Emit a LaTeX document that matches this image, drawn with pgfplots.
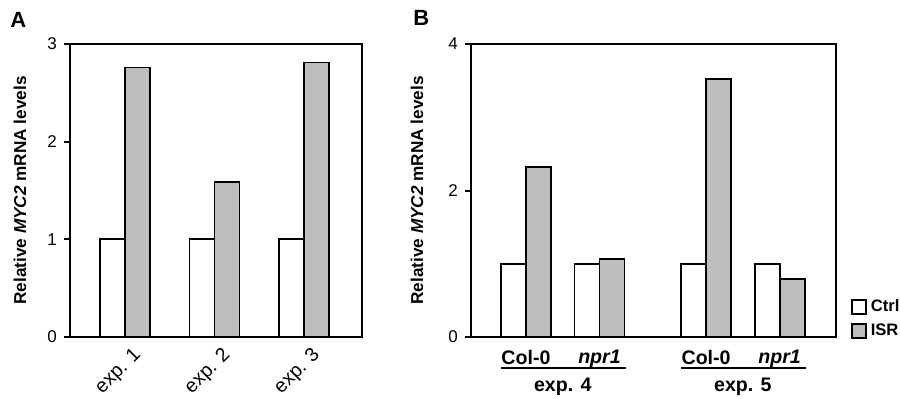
\documentclass[border=0pt]{standalone}
\usepackage{fontspec}
\setmainfont{Liberation Sans}
\usepackage{pgfplots}
\pgfplotsset{compat=1.18}

\definecolor{isrgray}{RGB}{190,190,190}

\pgfplotsset{
  panel/.style={
    scale only axis,
    height=146.5pt,
    ymin=0,
    axis line style={line width=1.2pt},
    every tick/.style={line width=1pt, black},
    ytick pos=left,
    tick align=outside,
    major tick length=3pt,
    xtick style={draw=none},
    clip=false,
    /pgf/number format/assume math mode=true,
    yticklabel style={font=\fontsize{8.5}{10}\selectfont},
    ylabel style={font=\fontsize{8.6}{10}\selectfont\bfseries, anchor=center},
    ylabel={Relative \textit{MYC2} mRNA levels},
  },
  ctrl/.style={fill=white, draw=black, line width=0.9pt},
  isr/.style={fill=isrgray, draw=black, line width=0.9pt},
}

\begin{document}
\begin{tikzpicture}
\useasboundingbox (0,0) rectangle (450pt,199pt);

% Panel A
\node[anchor=north west, inner sep=0pt, font=\fontsize{11}{12}\selectfont\bfseries] at (5pt,193pt) {A};
\begin{axis}[panel,
  at={(35pt,30.5pt)}, anchor=south west,
  width=146pt,
  xmin=0.385, xmax=3.648,
  ymax=3, ytick={0,1,2,3},
  ybar, bar width=0.279,
  xtick={1,2,3},
  xticklabels={exp. 1, exp. 2, exp. 3},
  xticklabel style={xshift=9pt, yshift=-2pt, rotate=45, anchor=east,
    font=\fontsize{9.8}{11}\selectfont},
  ylabel style={at={(axis description cs:-0.171,0.5)}},
]
\addplot[ctrl, bar shift=-0.1395] coordinates {(1,1) (2,1) (3,1)};
\addplot[isr, bar shift=0.1395] coordinates {(1,2.76) (2,1.59) (3,2.81)};
\end{axis}

% Panel B
\node[anchor=north west, inner sep=0pt, font=\fontsize{11}{12}\selectfont\bfseries] at (206.5pt,194pt) {B};
\begin{axis}[panel,
  at={(235.5pt,30.5pt)}, anchor=south west,
  width=182.5pt,
  xmin=-0.748, xmax=4.217,
  ymax=4, ytick={0,2,4},
  ybar, bar width=0.34,
  xtick={0,1,2.45,3.45},
  xticklabels={Col-0, \textit{npr1}, Col-0, \textit{npr1}},
  xticklabel style={font=\fontsize{9.8}{11}\selectfont\bfseries},
  ylabel style={at={(axis description cs:-0.148,0.5)}},
  legend style={draw=none, fill=none, at={(1,0)}, anchor=south west,
    xshift=7.5pt, yshift=-2.75pt, font=\fontsize{8.3}{10}\selectfont\bfseries,
    row sep=1pt, inner sep=0pt, nodes={inner sep=1.8pt}},
  legend cell align=left,
  legend image code/.code={\draw[#1] (0pt,-3.5pt) rectangle (7pt,3.5pt);},
]
\addplot[ctrl, bar shift=-0.17] coordinates {(0,1) (1,1) (2.45,1) (3.45,1)};
\addplot[isr, bar shift=0.17] coordinates {(0,2.32) (1,1.065) (2.45,3.52) (3.45,0.79)};
\legend{Ctrl, ISR}
\draw[line width=0.8pt] ([yshift=-15.5pt]axis cs:-0.34,0) -- ([yshift=-15.5pt]axis cs:1.36,0);
\draw[line width=0.8pt] ([yshift=-15.5pt]axis cs:2.11,0) -- ([yshift=-15.5pt]axis cs:3.81,0);
\node[font=\fontsize{9.8}{11}\selectfont\bfseries] at ([yshift=-25pt]axis cs:0.5,0) {exp. 4};
\node[font=\fontsize{9.8}{11}\selectfont\bfseries] at ([yshift=-25pt]axis cs:2.95,0) {exp. 5};
\end{axis}
\end{tikzpicture}
\end{document}
